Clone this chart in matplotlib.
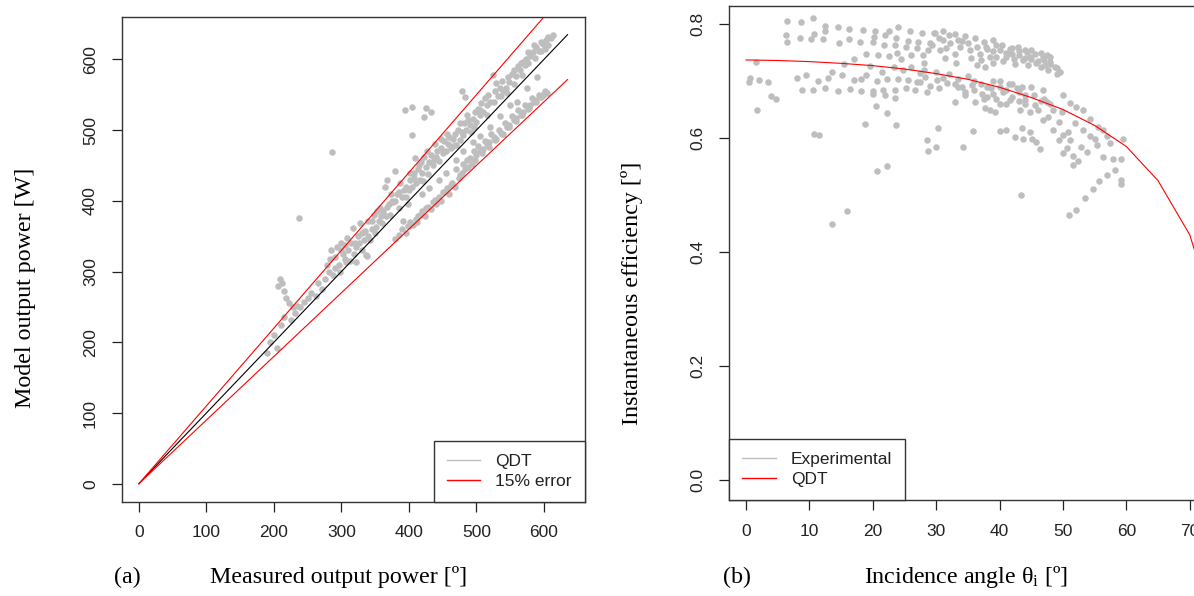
import numpy as np
import matplotlib
matplotlib.use("Agg")
import matplotlib.pyplot as plt
from matplotlib.lines import Line2D

plt.rcParams["font.family"] = ["Liberation Sans", "DejaVu Sans"]
plt.rcParams["mathtext.fontset"] = "custom"
plt.rcParams["mathtext.rm"] = "Liberation Serif"
plt.rcParams["mathtext.it"] = "Liberation Serif:italic"

GREY = "#bebebe"
RED = "#ff0000"
SERIF = ["Liberation Serif", "DejaVu Serif"]

# ---- panel (a): measured vs modelled power ----
# (measured W, model W)
low_cluster = [(190, 185), (195, 200), (200, 210), (205, 192), (209, 290), (212, 284),
               (206, 279), (215, 272), (218, 262), (222, 256), (228, 250), (234, 252),
               (239, 250), (244, 257), (210, 225), (215, 236), (225, 231), (232, 241)]
outliers = [(237, 376), (286, 469), (394, 529), (404, 533), (426, 531), (433, 525),
            (423, 519), (404, 493), (478, 555), (483, 547), (409, 460)]
upper_band = [(250, 262), (255, 270), (262, 265), (265, 284), (272, 275), (275, 290),
              (278, 310), (282, 300), (285, 330), (288, 295), (290, 320), (293, 335),
              (296, 310), (298, 300), (300, 340), (303, 325), (305, 318), (308, 348),
              (310, 330), (313, 315), (317, 362), (320, 340), (322, 335), (325, 350),
              (328, 368), (330, 330), (333, 345), (335, 358), (338, 322), (340, 372),
              (342, 345), (345, 360), (348, 380), (350, 355), (352, 363), (355, 372),
              (357, 390), (360, 368), (362, 386), (364, 420), (366, 379), (368, 430),
              (370, 395), (372, 380), (375, 400), (377, 398), (380, 442), (382, 410),
              (385, 390), (386, 412), (390, 405), (392, 372), (395, 420), (396, 405),
              (398, 395), (400, 415), (402, 430), (405, 420), (408, 440), (410, 425),
              (413, 445), (416, 430), (418, 455), (420, 440), (423, 462), (425, 448),
              (428, 438), (430, 455), (433, 465), (435, 450), (438, 481), (440, 462),
              (442, 470), (445, 457), (448, 475), (450, 467), (452, 485), (455, 470),
              (458, 480), (460, 490), (462, 475), (465, 488), (468, 495), (470, 479),
              (472, 500), (475, 486), (478, 498), (480, 493), (482, 510), (485, 500),
              (488, 515), (490, 507), (492, 498), (495, 516), (498, 525), (500, 512),
              (503, 530), (505, 521), (507, 538), (510, 525), (512, 545), (515, 535),
              (517, 550), (520, 540), (524, 578), (527, 555), (529, 566), (532, 548),
              (535, 560), (538, 570), (540, 555), (544, 559), (547, 575), (549, 568),
              (552, 580), (555, 565), (559, 577), (562, 590), (564, 585), (567, 578),
              (569, 596), (572, 592), (574, 601), (577, 595), (580, 605), (584, 610),
              (587, 602), (589, 617), (592, 612), (595, 625), (599, 622), (601, 615),
              (603, 627), (606, 620), (610, 630), (614, 634),
              (283, 318), (291, 305), (299, 330), (306, 338), (314, 340), (318, 325),
              (326, 340), (331, 355), (339, 350), (346, 372), (353, 385), (359, 378),
              (367, 392), (373, 410), (379, 400), (387, 425), (393, 415), (401, 440),
              (407, 432), (415, 450), (421, 428), (427, 470), (437, 458), (447, 488),
              (457, 495), (466, 478), (476, 510), (486, 522), (496, 505), (506, 528),
              (516, 522), (526, 540), (536, 548), (546, 552), (556, 585), (566, 595),
              (576, 610), (586, 620), (596, 612), (606, 632)]
middle_band = [(307, 314), (322, 314), (337, 323), (420, 410), (430, 418), (445, 430),
               (455, 440), (470, 458), (480, 470), (495, 483), (505, 492), (520, 505),
               (535, 520), (550, 535), (560, 540), (575, 560), (590, 575)]
lower_band = [(380, 346), (385, 352), (390, 360), (395, 355), (398, 365), (402, 370),
              (406, 366), (410, 375), (412, 370), (416, 380), (420, 385), (424, 378),
              (428, 392), (432, 388), (436, 398), (440, 395), (444, 405), (448, 400),
              (452, 412), (456, 418), (460, 410), (464, 425), (468, 420), (470, 445),
              (474, 432), (478, 440), (480, 452), (483, 445), (486, 458), (490, 460),
              (493, 452), (496, 470), (500, 465), (503, 478), (506, 470), (510, 474),
              (513, 485), (516, 480), (519, 483), (522, 495), (526, 490), (529, 488),
              (533, 500), (536, 496), (539, 495), (543, 510), (546, 505), (549, 507),
              (553, 520), (556, 515), (559, 517), (562, 528), (566, 522), (569, 526),
              (572, 535), (576, 530), (579, 536), (582, 545), (586, 540), (589, 543),
              (592, 550), (596, 547), (599, 550), (602, 556), (604, 553),
              (400, 364), (414, 378), (426, 390), (438, 401), (450, 412), (462, 423),
              (476, 436), (488, 448), (498, 458), (508, 467), (518, 476), (528, 486),
              (538, 495), (548, 504), (558, 513), (568, 522), (578, 531), (588, 540),
              (598, 549)]
fit_range = [0, 635]
err_upper = 1.10
err_lower = 0.90

# ---- panel (b): efficiency vs incidence angle ----
# (angle deg, efficiency)
eff_upper = [(6.4, 0.806), (8.7, 0.804), (10.5, 0.810), (12.4, 0.797), (12.5, 0.788),
             (6.3, 0.780), (6.5, 0.769), (8.5, 0.775), (10.2, 0.774), (10.8, 0.782),
             (12.2, 0.773), (14.5, 0.794), (14.6, 0.767), (16.3, 0.792), (16.2, 0.773),
             (18.0, 0.768), (18.4, 0.790), (20.1, 0.769), (20.3, 0.788), (20.2, 0.778),
             (21.7, 0.763), (22.0, 0.780), (22.5, 0.788), (23.5, 0.763), (24.0, 0.794),
             (23.7, 0.775), (23.8, 0.750), (25.6, 0.771), (25.9, 0.788), (25.3, 0.760),
             (26.0, 0.746), (27.1, 0.769), (26.9, 0.758), (27.7, 0.784), (27.9, 0.746),
             (28.0, 0.732), (28.7, 0.754), (29.0, 0.766), (29.6, 0.785), (19.0, 0.747),
             (20.9, 0.746), (22.5, 0.744), (29.8, 0.784), (31.1, 0.787), (32.9, 0.782),
             (34.5, 0.779), (36.1, 0.775), (37.5, 0.769), (39.0, 0.772), (40.4, 0.763),
             (41.6, 0.757), (42.9, 0.760), (44.3, 0.751), (45.6, 0.747), (46.9, 0.743),
             (48.0, 0.734), (48.7, 0.725), (49.0, 0.713), (29.3, 0.763), (30.6, 0.755),
             (32.2, 0.767), (33.8, 0.760), (35.3, 0.754), (36.9, 0.748), (37.9, 0.760),
             (39.5, 0.742), (41.1, 0.748), (42.2, 0.739), (43.7, 0.737), (44.8, 0.742),
             (45.8, 0.731), (47.1, 0.728), (47.7, 0.719), (31.4, 0.740), (33.2, 0.731),
             (36.4, 0.728), (37.7, 0.725), (39.0, 0.731), (40.0, 0.755), (41.0, 0.750),
             (42.0, 0.748), (43.0, 0.745), (44.0, 0.740), (45.0, 0.738), (46.0, 0.735),
             (47.0, 0.737), (48.0, 0.730), (49.0, 0.722), (49.5, 0.716), (45.0, 0.755),
             (46.5, 0.750), (48.0, 0.742), (47.5, 0.745), (44.0, 0.754), (43.0, 0.752),
             (42.0, 0.758), (41.0, 0.742), (39.0, 0.752), (34.0, 0.770), (31.0, 0.772),
             (30.5, 0.775), (32.0, 0.780), (33.5, 0.772), (35.0, 0.766), (36.5, 0.760),
             (38.0, 0.756), (39.5, 0.764), (35.5, 0.740), (37.0, 0.736), (38.5, 0.742),
             (40.5, 0.735), (42.5, 0.730), (44.5, 0.728), (46.5, 0.725), (33.0, 0.748),
             (31.5, 0.758)]
eff_middle = [(1.6, 0.734), (0.7, 0.706), (0.5, 0.698), (2.0, 0.702), (3.4, 0.699),
              (3.9, 0.673), (4.7, 0.668), (8.0, 0.706), (9.4, 0.710), (8.8, 0.685),
              (10.6, 0.685), (11.3, 0.700), (12.4, 0.687), (13.0, 0.706), (13.5, 0.715),
              (14.5, 0.683), (15.1, 0.711), (15.5, 0.730), (16.4, 0.686), (17.1, 0.702),
              (18.1, 0.682), (18.2, 0.703), (19.0, 0.711), (17.1, 0.738), (19.6, 0.726),
              (20.0, 0.683), (20.1, 0.677), (20.7, 0.700), (21.4, 0.716), (21.6, 0.685),
              (21.9, 0.675), (22.2, 0.703), (23.4, 0.725), (23.5, 0.685), (23.5, 0.671),
              (23.9, 0.703), (24.4, 0.738), (24.8, 0.719), (25.3, 0.688), (25.6, 0.702),
              (26.7, 0.684), (26.9, 0.699), (27.4, 0.714), (28.5, 0.681), (28.2, 0.707),
              (30.1, 0.702), (31.7, 0.696), (33.5, 0.704), (34.5, 0.681), (35.6, 0.693),
              (37.2, 0.678), (38.7, 0.687), (39.5, 0.669), (40.6, 0.681), (41.6, 0.667),
              (42.7, 0.687), (43.2, 0.649), (44.0, 0.667), (44.8, 0.646), (45.6, 0.658),
              (46.9, 0.684), (47.4, 0.664), (47.7, 0.637), (48.5, 0.649), (49.3, 0.628),
              (50.0, 0.675), (49.8, 0.646), (51.1, 0.661), (52.1, 0.655), (53.2, 0.649),
              (54.2, 0.634), (55.5, 0.619), (56.3, 0.614), (57.4, 0.591), (59.4, 0.599),
              (36.0, 0.700), (37.0, 0.695), (38.0, 0.690), (39.0, 0.700), (40.0, 0.690),
              (41.0, 0.685), (42.0, 0.695), (43.0, 0.680), (44.0, 0.675), (45.0, 0.690),
              (38.0, 0.672), (40.0, 0.660), (42.0, 0.672), (44.0, 0.660), (46.0, 0.650),
              (47.0, 0.668), (48.0, 0.660), (36.0, 0.684), (34.0, 0.690), (33.0, 0.695),
              (38.5, 0.649), (37.7, 0.652), (39.3, 0.646), (32.9, 0.663), (36.1, 0.663),
              (46.9, 0.632), (48.5, 0.614), (50.8, 0.611), (51.9, 0.626), (53.2, 0.614),
              (54.2, 0.603), (55.3, 0.588), (51.1, 0.597), (49.3, 0.597), (50.0, 0.605),
              (26.0, 0.725), (28.0, 0.720), (30.0, 0.715), (31.0, 0.705), (32.0, 0.712),
              (33.5, 0.690), (35.0, 0.708), (29.0, 0.692), (27.5, 0.698), (30.5, 0.688),
              (34.5, 0.675), (40.0, 0.700), (41.5, 0.695), (43.5, 0.690), (45.5, 0.675),
              (46.5, 0.665), (43.0, 0.665), (41.0, 0.660), (39.0, 0.678), (37.5, 0.668)]
eff_lower = [(1.7, 0.649), (20.5, 0.656), (22.3, 0.644), (18.7, 0.624), (23.6, 0.622),
             (10.8, 0.607), (11.5, 0.605), (28.5, 0.596), (28.7, 0.577), (20.7, 0.542),
             (22.3, 0.551), (16.0, 0.472), (13.5, 0.449), (30.3, 0.618), (29.9, 0.584),
             (35.8, 0.613), (34.3, 0.584), (40.1, 0.613), (41.0, 0.614), (42.5, 0.602),
             (43.5, 0.617), (44.8, 0.611), (45.1, 0.599), (45.8, 0.593), (46.4, 0.581),
             (43.7, 0.599), (50.6, 0.582), (51.6, 0.568), (50.0, 0.573), (51.6, 0.553),
             (52.9, 0.585), (57.9, 0.564), (59.2, 0.564), (56.3, 0.567), (58.2, 0.544),
             (56.9, 0.535), (59.2, 0.520), (59.2, 0.527), (55.7, 0.525), (54.8, 0.510),
             (53.5, 0.494), (52.0, 0.473), (50.9, 0.465), (43.4, 0.500), (52.4, 0.560),
             (53.8, 0.575), (57.0, 0.603), (55.0, 0.598)]
qdt_angle = [0, 5, 10, 15, 20, 25, 30, 35, 40, 45, 50, 55, 60, 65, 70, 75]
qdt_eff = [0.737, 0.736, 0.734, 0.731, 0.727, 0.721, 0.713, 0.703, 0.689, 0.671,
           0.650, 0.622, 0.585, 0.525, 0.430, 0.250]

W, H = 1194, 596
fig = plt.figure(figsize=(W / 100, H / 100), dpi=100)

def px_box(l, t, r, b):
    return [l / W, 1 - b / H, (r - l) / W, (b - t) / H]

def style_axis(ax):
    ax.tick_params(direction="out", length=7, width=0.9, pad=10, labelsize=12.5,
                   color="#222222", labelcolor="#222222")
    for s in ax.spines.values():
        s.set_color("#333333")
        s.set_linewidth(1.0)
    for lab in ax.get_yticklabels():
        lab.set_rotation(90)
        lab.set_va("center")

# panel (a)
ax1 = fig.add_axes(px_box(121.7, 16.7, 584.7, 501.7))
pts = np.array(low_cluster + outliers + upper_band + middle_band + lower_band)
ax1.scatter(pts[:, 0], pts[:, 1], s=22, color=GREY, linewidths=0, zorder=1)
fx = np.array(fit_range, dtype=float)
ax1.plot(fx, fx, color="black", lw=0.8, zorder=2)
ax1.plot(fx, fx * err_upper, color=RED, lw=0.8, zorder=2)
ax1.plot(fx, fx * err_lower, color=RED, lw=0.8, zorder=2)
ax1.set_xlim(-25.4, 660.4)
ax1.set_ylim(-25.4, 660.4)
ax1.set_xticks(range(0, 601, 100))
ax1.set_yticks(range(0, 601, 100))
style_axis(ax1)
leg1 = ax1.legend(handles=[Line2D([0], [0], color=GREY, lw=1.0, label="QDT"),
                           Line2D([0], [0], color=RED, lw=1.0, label="15% error")],
                  loc="lower right", borderaxespad=0, fontsize=12.5, fancybox=False,
                  framealpha=1, edgecolor="#333333", handlelength=1.95,
                  handletextpad=0.85, labelspacing=0.25, borderpad=0.75)
leg1.get_frame().set_linewidth(1.0)
for t in leg1.get_texts():
    t.set_color("#222222")

# panel (b) - runs off the right edge of the picture
ax2 = fig.add_axes(px_box(729, 6, 746 + 75 * 6.34, 500))
pe = np.array(eff_upper + eff_middle + eff_lower)
ax2.scatter(pe[:, 0], pe[:, 1], s=22, color=GREY, linewidths=0, zorder=1)
ax2.plot(qdt_angle, qdt_eff, color=RED, lw=0.8, zorder=2)
ax2.set_xlim(-2.68, 75)
ax2.set_ylim(-0.0351, 0.8316)
ax2.set_xticks(range(0, 71, 10))
ax2.set_yticks([0.0, 0.2, 0.4, 0.6, 0.8])
ax2.set_yticklabels(["0.0", "0.2", "0.4", "0.6", "0.8"])
style_axis(ax2)
ax2.spines["right"].set_visible(False)
leg2 = ax2.legend(handles=[Line2D([0], [0], color=GREY, lw=1.0, label="Experimental"),
                           Line2D([0], [0], color=RED, lw=1.0, label="QDT")],
                  loc="lower left", borderaxespad=0, fontsize=12.5, fancybox=False,
                  framealpha=1, edgecolor="#333333", handlelength=1.95,
                  handletextpad=0.85, labelspacing=0.25, borderpad=0.75)
leg2.get_frame().set_linewidth(1.0)
for t in leg2.get_texts():
    t.set_color("#222222")

# labels (Times-like serif)
fs = 17.3
fig.text(339 / W, 1 - 577 / H, "Measured output power [º]", family=SERIF, fontsize=fs,
         ha="center", va="center")
fig.text(127 / W, 1 - 577 / H, "(a)", family=SERIF, fontsize=fs, ha="center", va="center")
fig.text(25 / W, 1 - 288 / H, "Model output power [W]", family=SERIF, fontsize=fs,
         ha="center", va="center", rotation=90)
fig.text(966 / W, 1 - 577 / H, r"Incidence angle θ$_\mathrm{i}$ [º]", family=SERIF,
         fontsize=fs, ha="center", va="center")
fig.text(737 / W, 1 - 577 / H, "(b)", family=SERIF, fontsize=fs, ha="center", va="center")
fig.text(632 / W, 1 - 293 / H, "Instantaneous efficiency [º]", family=SERIF, fontsize=fs,
         ha="center", va="center", rotation=90)

fig.savefig("out.png", dpi=100)
